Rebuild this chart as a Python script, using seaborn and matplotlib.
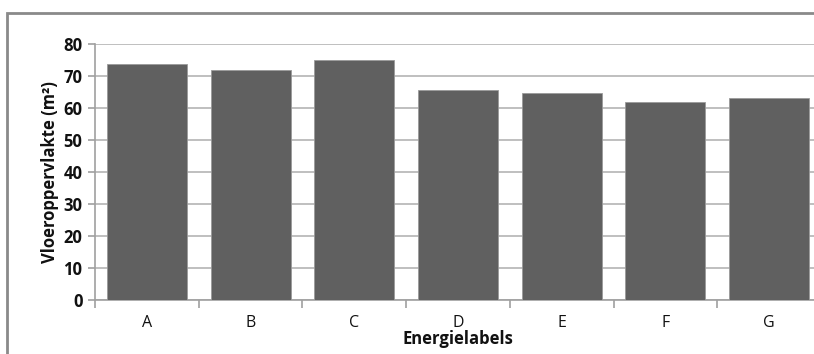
import matplotlib.pyplot as plt
import numpy as np
import seaborn as sns
import pandas as pd
from matplotlib.patches import Rectangle
from matplotlib.ticker import FixedLocator

sns.set_theme(style="white")
plt.rcParams['font.family'] = ['Open Sans', 'DejaVu Sans']

# data
labels = ['A', 'B', 'C', 'D', 'E', 'F', 'G']
oppervlakte = [73.6, 72.0, 74.9, 65.5, 64.8, 61.9, 63.1]

df = pd.DataFrame({'Energielabels': labels, 'Vloeroppervlakte': oppervlakte})

fig = plt.figure(figsize=(8.14, 3.54), dpi=100)
ax = fig.add_axes([95 / 814, 54 / 354, 726 / 814, 256 / 354])

sns.barplot(data=df, x='Energielabels', y='Vloeroppervlakte', color='#606060',
            saturation=1, width=0.77, ax=ax, zorder=3, edgecolor='#9a9a9a', linewidth=0.6)

ax.set_ylim(0, 80)
ax.set_xlim(-0.5, 6.5)
ax.set_yticks(np.arange(0, 81, 10))
ax.yaxis.grid(True, color='#b4b4b4', linewidth=1.2, zorder=0)
ax.set_axisbelow(True)

for s in ['top', 'right']:
    ax.spines[s].set_visible(False)
for s in ['left', 'bottom']:
    ax.spines[s].set_color('#a0a0a0')
    ax.spines[s].set_linewidth(1.2)

ax.tick_params(axis='y', which='major', length=5, width=1.2, color='#a0a0a0',
               labelsize=12, pad=4, left=True, labelcolor='#111111')
ax.tick_params(axis='x', which='major', length=0, labelsize=11.5, pad=11, labelcolor='#111111')
ax.xaxis.set_minor_locator(FixedLocator(np.arange(-0.5, 6.6, 1)))
ax.tick_params(axis='x', which='minor', length=6, width=1.2, color='#a0a0a0', bottom=True)
for t in ax.get_yticklabels():
    t.set_fontweight('bold')

ax.set_xlabel('Energielabels', fontsize=12, fontweight='bold', labelpad=-1, color='#111111')
ax.set_ylabel('Vloeroppervlakte (m²)', fontsize=12, fontweight='bold', labelpad=3, color='#111111')

# outer chart border
fig.add_artist(Rectangle((7 / 814, -0.1), 1.1, (354 - 13) / 354 + 0.1, transform=fig.transFigure,
                         fill=False, edgecolor='#8a8a8a', linewidth=2))

fig.savefig('out.png', dpi=100)
